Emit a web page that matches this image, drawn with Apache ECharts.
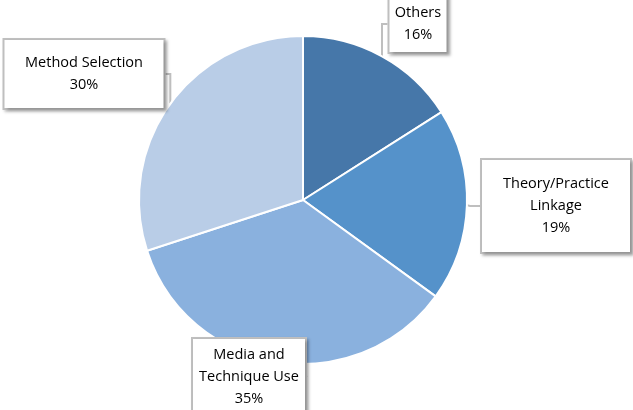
<!DOCTYPE html>
<html><head><meta charset="utf-8">
<script src="https://cdn.jsdelivr.net/npm/echarts@6/dist/echarts.min.js"></script>
<style>html,body{margin:0;padding:0;background:#fff}#c{width:633px;height:410px}</style>
</head><body><div id="c"></div>
<script>
const categories = ["Others", "Theory/Practice\nLinkage", "Media and\nTechnique Use", "Method Selection"];
const values = [16, 19, 35, 30];

const colors = ["#4677A9", "#5592CA", "#8AB1DE", "#B9CDE7"];
const labelPos = [[418, 24], [556, 206], [249, 377], [84, 74]];
const boxStyles = [
  { padding: [6, 0], width: 57 },
  { padding: [13, 0], width: 148 },
  { padding: [5, 0], width: 112 },
  { padding: [12, 0], width: 159 }
];

const chart = echarts.init(document.getElementById('c'));
chart.setOption({
  animation: false,
  series: [{
    type: 'pie',
    center: [303, 200],
    radius: 164,
    startAngle: 90,
    clockwise: true,
    itemStyle: { borderColor: '#fff', borderWidth: 2 },
    label: {
      show: true,
      position: 'outside',
      overflow: 'none',
      formatter: p => p.name + '\n' + p.value + '%',
      fontFamily: '"Open Sans", Lato, sans-serif',
      fontSize: 14.5,
      lineHeight: 22,
      color: '#000',
      align: 'center',
      backgroundColor: '#fff',
      borderColor: '#BFBFBF',
      borderWidth: 2,
      shadowColor: 'rgba(0,0,0,0.25)',
      shadowBlur: 3,
      shadowOffsetX: 2,
      shadowOffsetY: 2
    },
    labelLine: { show: true, lineStyle: { color: '#BFBFBF', width: 2 }, length: 10, length2: 10 },
    labelLayout: function (p) {
      const pos = labelPos[p.dataIndex];
      return { x: pos[0], y: pos[1], align: 'center', verticalAlign: 'middle' };
    },
    data: categories.map((c, i) => ({
      name: c, value: values[i],
      itemStyle: { color: colors[i] },
      label: boxStyles[i]
    }))
  }]
});
</script></body></html>
